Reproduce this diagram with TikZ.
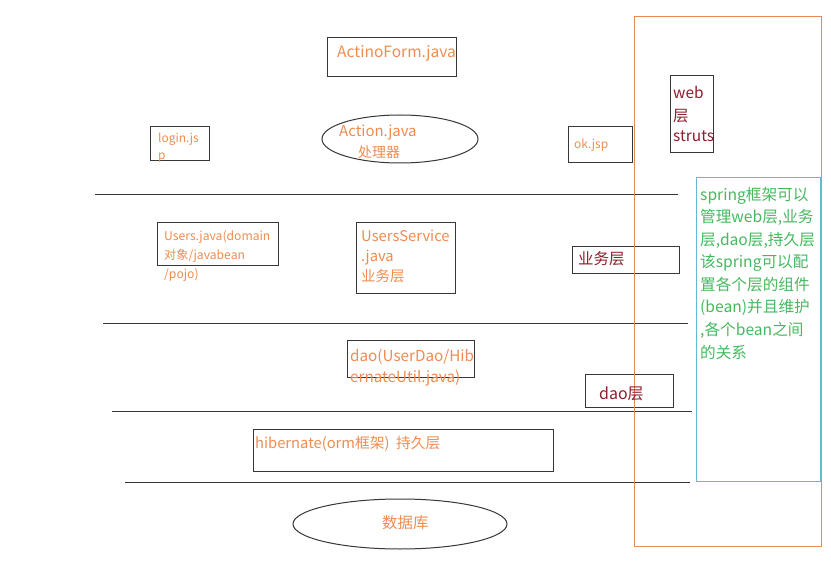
\documentclass[tikz,border=0pt]{standalone}
\usepackage{fontspec}
\setmainfont{Noto Sans CJK SC}
\usetikzlibrary{fit}
\definecolor{txtor}{RGB}{240,140,80}
\definecolor{frameor}{RGB}{232,140,85}
\definecolor{maroonc}{RGB}{140,30,45}
\definecolor{grn}{RGB}{70,185,95}
\definecolor{cyanb}{RGB}{100,185,215}
\definecolor{boxk}{RGB}{55,55,55}
\tikzset{
  box/.style={draw=boxk, line width=1bp, inner sep=0pt},
  sep/.style={draw=boxk, line width=1bp},
  ot/.style={text=txtor, anchor=base west, inner sep=0pt, font=\fontsize{#1}{#1}\selectfont},
  mt/.style={text=maroonc, anchor=base west, inner sep=0pt, font=\fontsize{#1}{#1}\selectfont},
  gt/.style={text=grn, anchor=base west, inner sep=0pt, font=\fontsize{#1}{#1}\selectfont},
}
\begin{document}
\begin{tikzpicture}[x=1bp,y=-1bp]
\useasboundingbox[fill=white] (0,0) rectangle (831,561);

% separator lines
\coordinate (l1a) at (95,195);  \coordinate (l1b) at (678,195);
\coordinate (l2a) at (103,323); \coordinate (l2b) at (688,323);
\coordinate (l3a) at (112,411); \coordinate (l3b) at (692,411);
\coordinate (l4a) at (125,482); \coordinate (l4b) at (690,482);
\draw[sep] (l1a) -- (l1b);
\draw[sep] (l2a) -- (l2b);
\draw[sep] (l3a) -- (l3b);
\draw[sep] (l4a) -- (l4b);

% boxes
\node[box, fit={(327,38) (456,77)}] (af) {};
\node[box, fit={(150,127) (209,161)}] (login) {};
\node[box, fit={(568,127) (632,163)}] (okjsp) {};
\node[box, fit={(670,76) (713,153)}] (web) {};
\node[box, fit={(157,223) (278,266)}] (users) {};
\node[box, fit={(356,223) (455,294)}] (usvc) {};
\node[box, fit={(572,247) (679,274)}] (yw) {};
\node[box, fit={(347,340) (474,377)}] (dao) {};
\node[box, fit={(585,374) (673,407)}] (daoc) {};
\node[box, fit={(253,429) (553,471)}] (hib) {};
\draw[line width=1bp, draw=boxk] (400,139) ellipse [x radius=78, y radius=24];
\node[inner sep=0pt, minimum width=156bp, minimum height=48bp] (act) at (400,139) {};
\draw[line width=1bp, draw=boxk] (400,524) ellipse [x radius=107, y radius=25];
\node[inner sep=0pt, minimum width=214bp, minimum height=50bp] (db) at (400,524) {};

% frames
\node[draw=cyanb, line width=1bp, inner sep=0pt, fit={(696,178) (820,481)}] (springbox) {};
\node[draw=frameor, line width=1bp, inner sep=0pt, fit={(634,17) (821,546)}] (frame) {};

% orange texts
\node[ot=15.6] (aft) at (337,57.5) {ActinoForm.java};
\node[ot=15] (actt1) at (339,137) {Action.java};
\node[ot=14] (actt2) at (358,158) {处理器};
\node[ot=12] (logt1) at (158,142.5) {login.js};
\node[ot=12] (logt2) at (158,159.5) {p};
\node[ot=12] (okt) at (574,148.5) {ok.jsp};
\node[ot=12.2] (ust1) at (164,240.5) {Users.java(domain};
\node[ot=12.2] (ust2) at (164,259.5) {对象/javabean};
\node[ot=12.2] (ust3) at (164,278.5) {/pojo)};
\node[ot=14.8] (svt1) at (361,242) {UsersService};
\node[ot=14.8] (svt2) at (361,262) {.java};
\node[ot=14.5] (svt3) at (361,282) {业务层};
\node[ot=15.3] (daot1) at (350,361) {dao(UserDao/Hib};
\node[ot=15.3] (daot2) at (350,382) {ernateUtil.java)};
\node[ot=14.8] (hibt) at (255,448) {hibernate(orm框架)\ \ 持久层};
\node[ot=15.5] (dbt) at (382,528.5) {数据库};

% maroon texts
\node[mt=15.5] (webt1) at (673,98.5) {web};
\node[mt=15.5] (webt2) at (673,122) {层};
\node[mt=15.5] (webt3) at (673,142) {struts};
\node[mt=15.5] (ywt) at (578,264.5) {业务层};
\node[mt=16] (daoct) at (599,399) {dao层};

% green texts
\node[gt=15.7] (g1) at (700,200.5) {spring框架可以};
\node[gt=15.7] (g2) at (700,223) {管理web层,业务};
\node[gt=15.7] (g3) at (700,245.5) {层,dao层,持久层};
\node[gt=15.7] (g4) at (700,268) {该spring可以配};
\node[gt=15.7] (g5) at (700,290.5) {置各个层的组件};
\node[gt=15.7] (g6) at (700,313) {(bean)并且维护};
\node[gt=15.7] (g7) at (700,335.5) {,各个bean之间};
\node[gt=15.7] (g8) at (700,358) {的关系};
\end{tikzpicture}
\end{document}
